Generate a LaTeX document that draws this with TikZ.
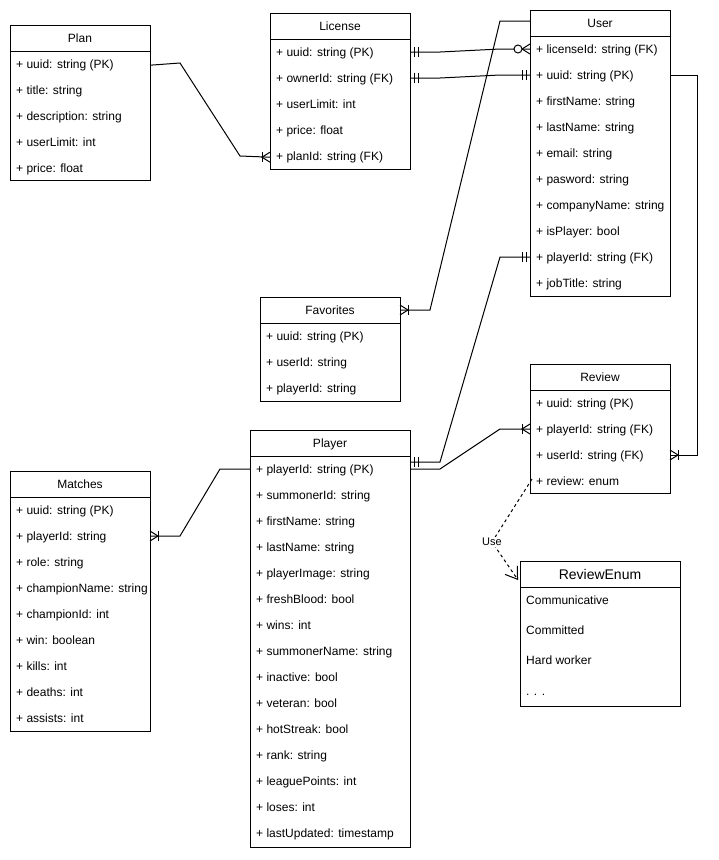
\documentclass[tikz,border=0pt]{standalone}
\usepackage{fontspec}
\setmainfont{Liberation Sans}
\usetikzlibrary{arrows.meta,calc}
\tikzset{
  tbl/.style={draw, line width=1pt, anchor=north west, inner sep=0pt, outer sep=0pt, fill=white},
  ttl/.style={anchor=base, inner sep=0pt, font=\fontsize{12}{14}\selectfont},
  bigttl/.style={anchor=base, inner sep=0pt, font=\fontsize{14}{16}\selectfont},
  row/.style={anchor=base west, inner sep=0pt, font=\fontsize{12}{14}\selectfont},
  conn/.style={line width=1pt},
  usedep/.style={line width=1pt, dash pattern=on 3pt off 3pt, -{Straight Barb[length=11pt,width=15pt,line width=1pt]}},
  uselabel/.style={fill=white, inner sep=1pt, font=\fontsize{11}{13}\selectfont},
  crowmany/.pic={\draw[line width=1pt] (0,-5) -- (8,0) -- (0,5); \draw[line width=1pt] (8,-5) -- (8,5);},
  mandone/.pic={\draw[line width=1pt] (4,-5) -- (4,5); \draw[line width=1pt] (8,-5) -- (8,5);},
  zeromany/.pic={\draw[line width=1pt] (0,-5) -- (8,0) -- (0,5); \draw[line width=1pt, fill=white] (12,0) circle[radius=4pt];},
}
\newcommand\erbox[7]{%
  \node[tbl, minimum width=#4, minimum height=#5] (#1) at (#2,#3) {};
  \node[ttl] (#1t) at ({#2+#4/2},{#3+13+4.3}) {#6};
  \draw[line width=1pt] (#2,#3+26) -- ({#2+#4},#3+26);
  \foreach \r [count=\i] in {#7} {\node[row] (#1\i) at (#2+6,{#3+13+26*\i+4.3}) {\r};}
}
\begin{document}
\begin{tikzpicture}[x=1pt,y=-1pt]
\useasboundingbox[fill=white] (0,0) rectangle (719,860);

\erbox{plan}{10}{25}{140}{155}{Plan}{+ uuid: string (PK),+ title: string,+ description: string,+ userLimit: int,+ price: float}
\erbox{lic}{270}{13}{140}{156}{License}{+ uuid: string (PK),+ ownerId: string (FK),+ userLimit: int,+ price: float,+ planId: string (FK)}
\erbox{usr}{530}{10}{140}{286}{User}{+ licenseId: string (FK),+ uuid: string (PK),+ firstName: string,+ lastName: string,+ email: string,+ pasword: string,+ companyName: string,+ isPlayer: bool,+ playerId: string (FK),+ jobTitle: string}
\erbox{fav}{260}{297}{140}{104}{Favorites}{+ uuid: string (PK),+ userId: string,+ playerId: string}
\erbox{rev}{530}{364}{140}{129}{Review}{+ uuid: string (PK),+ playerId: string (FK),+ userId: string (FK),+ review: enum}
\erbox{ply}{250}{430}{160}{417}{Player}{+ playerId: string (PK),+ summonerId: string,+ firstName: string,+ lastName: string,+ playerImage: string,+ freshBlood: bool,+ wins: int,+ summonerName: string,+ inactive: bool,+ veteran: bool,+ hotStreak: bool,+ rank: string,+ leaguePoints: int,+ loses: int,+ lastUpdated: timestamp}
\erbox{mat}{10}{471}{140}{260}{Matches}{+ uuid: string (PK),+ playerId: string,+ role: string,+ championName: string,+ championId: int,+ win: boolean,+ kills: int,+ deaths: int,+ assists: int}

% ReviewEnum
\node[tbl, minimum width=160, minimum height=145] (enum) at (520,561) {};
\node[bigttl] (enumt) at (600,579.5) {ReviewEnum};
\draw[line width=1pt] (520,587) -- (680,587);
\node[row] (enum1) at (526,604.3) {Communicative};
\node[row] (enum2) at (526,634.3) {Committed};
\node[row] (enum3) at (526,664.3) {Hard worker};
\node[row] (enum4) at (526,695.3) {. . .};

% Plan -> License
\draw[conn] (plan.east |- plan1.west) -- (180,63) -- (240,156) -- (lic.west |- lic5.west);
\pic[rotate=180] at (lic.west |- lic5.west) {crowmany};

% License uuid -> User licenseId
\draw[conn] (lic.east |- 0,52) -- (440,52) -- (500,49) -- (usr.west |- 0,49);
\pic at (lic.east |- 0,52) {mandone};
\pic[rotate=180] at (usr.west |- 0,49) {zeromany};

% License ownerId -> User uuid
\draw[conn] (lic.east |- 0,78) -- (440,78) -- (500,75) -- (usr.west |- 0,75);
\pic at (lic.east |- 0,78) {mandone};
\pic[rotate=180] at (usr.west |- 0,75) {mandone};

% Favorites -> User
\coordinate (usrtop) at ($(usr.north west)+(0,11)$);
\coordinate (favend) at ($(fav.north east)+(0,13)$);
\draw[conn] (favend) -- (430,310) -- (500,21) -- (usrtop);
\pic at (favend) {crowmany};

% Player -> User playerId
\coordinate (plyup) at ($(ply.north east)+(0,32)$);
\coordinate (plyrow) at ($(ply.north east)+(0,39)$);
\draw[conn] (plyup) -- (440,462) -- (500,257) -- (usr.west |- 0,257);
\pic at (plyup) {mandone};
\pic[rotate=180] at (usr.west |- 0,257) {mandone};

% Player -> Review playerId
\draw[conn] (plyrow) -- (440,469) -- (500,429) -- (rev.west |- 0,429);
\pic[rotate=180] at (rev.west |- 0,429) {crowmany};

% User uuid -> Review userId
\draw[conn] (usr.east |- 0,75) -- (697,75) -- (697,455) -- (rev.east |- 0,455);
\pic at (rev.east |- 0,455) {crowmany};

% Matches -> Player
\draw[conn] (mat.east |- 0,536) -- (180,536) -- (220,469) -- (ply.west |- 0,469);
\pic at (mat.east |- 0,536) {crowmany};

% Review -> ReviewEnum (Use)
\coordinate (usestart) at ($(rev.south west)+(2,-14)$);
\coordinate (useend) at ($(enum.north west)+(-2,19)$);
\draw[usedep] (usestart) -- (492,542) node[uselabel] (uselbl) {Use} -- (useend);
\end{tikzpicture}
\end{document}
